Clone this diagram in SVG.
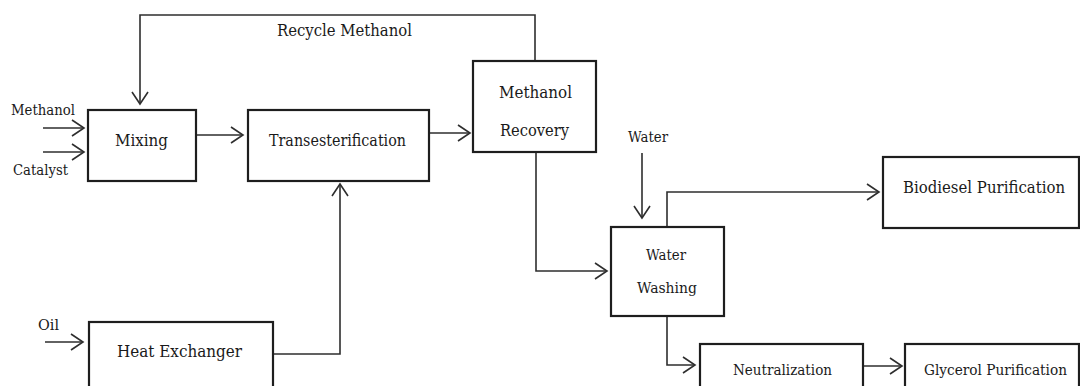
<svg xmlns="http://www.w3.org/2000/svg" width="1080" height="386" viewBox="0 0 1080 386">
<style>
.box{fill:#fff;stroke:#1e1e1e;stroke-width:2.2}
.ln{fill:none;stroke:#2e2e2e;stroke-width:1.6;marker-end:url(#ah)}
.t{font-family:"DejaVu Serif","Liberation Serif",serif;fill:#1a1a1a;font-size:16px;text-anchor:start}
.s{font-size:14px}
</style>
<defs>
<marker id="ah" markerUnits="userSpaceOnUse" markerWidth="20" markerHeight="20" viewBox="-14 -10 16 20" refX="0" refY="0" orient="auto" overflow="visible">
<path d="M-12,-8 L0,0 L-12,8" fill="none" stroke="#2e2e2e" stroke-width="1.6"/>
</marker>
</defs>
<rect width="1080" height="386" fill="#fff"/>
<g id="connectors">
<path class="ln" d="M535,61 V15 H140 V104"/>
<path class="ln" d="M43,128 H84"/>
<path class="ln" d="M43,152 H84"/>
<path class="ln" d="M196,135 H243"/>
<path class="ln" d="M429,133 H470"/>
<path class="ln" d="M536,152 V271 H607"/>
<path class="ln" d="M642,153 V218"/>
<path class="ln" d="M667,227 V192 H879"/>
<path class="ln" d="M667,316 V365 H695"/>
<path class="ln" d="M863,366 H902"/>
<path class="ln" d="M45,342 H83"/>
<path class="ln" d="M273,354 H340 V184"/>
</g>
<g id="labels">
<text class="t" x="277" y="36" textLength="135" lengthAdjust="spacingAndGlyphs">Recycle Methanol</text>
<text class="t s" x="11" y="115" textLength="64" lengthAdjust="spacingAndGlyphs">Methanol</text>
<text class="t s" x="13" y="175" textLength="55" lengthAdjust="spacingAndGlyphs">Catalyst</text>
<text class="t s" x="38" y="330" textLength="21" lengthAdjust="spacingAndGlyphs">Oil</text>
<text class="t s" x="628" y="142" textLength="40" lengthAdjust="spacingAndGlyphs">Water</text>
</g>
<g id="mixing">
<rect class="box" x="88" y="110" width="108" height="71"/>
<text class="t" x="115" y="146" textLength="53" lengthAdjust="spacingAndGlyphs">Mixing</text>
</g>
<g id="transesterification">
<rect class="box" x="248" y="110" width="181" height="71"/>
<text class="t" x="269" y="146" textLength="137" lengthAdjust="spacingAndGlyphs">Transesterification</text>
</g>
<g id="methanol-recovery">
<rect class="box" x="473" y="61" width="123" height="91"/>
<text class="t" x="499" y="98" textLength="73" lengthAdjust="spacingAndGlyphs">Methanol</text>
<text class="t" x="500" y="136" textLength="69" lengthAdjust="spacingAndGlyphs">Recovery</text>
</g>
<g id="water-washing">
<rect class="box" x="611" y="227" width="113" height="89"/>
<text class="t s" x="646" y="260" textLength="40" lengthAdjust="spacingAndGlyphs">Water</text>
<text class="t s" x="637" y="293" textLength="60" lengthAdjust="spacingAndGlyphs">Washing</text>
</g>
<g id="biodiesel-purification">
<rect class="box" x="883" y="157" width="196" height="71"/>
<text class="t" x="903" y="193" textLength="162" lengthAdjust="spacingAndGlyphs">Biodiesel Purification</text>
</g>
<g id="heat-exchanger">
<rect class="box" x="89" y="322" width="184" height="72"/>
<text class="t" x="117" y="357" textLength="125" lengthAdjust="spacingAndGlyphs">Heat Exchanger</text>
</g>
<g id="neutralization">
<rect class="box" x="700" y="344" width="163" height="50"/>
<text class="t s" x="733" y="375" textLength="99" lengthAdjust="spacingAndGlyphs">Neutralization</text>
</g>
<g id="glycerol-purification">
<rect class="box" x="905" y="344" width="174" height="50"/>
<text class="t s" x="924" y="375" textLength="143" lengthAdjust="spacingAndGlyphs">Glycerol Purification</text>
</g>
</svg>
